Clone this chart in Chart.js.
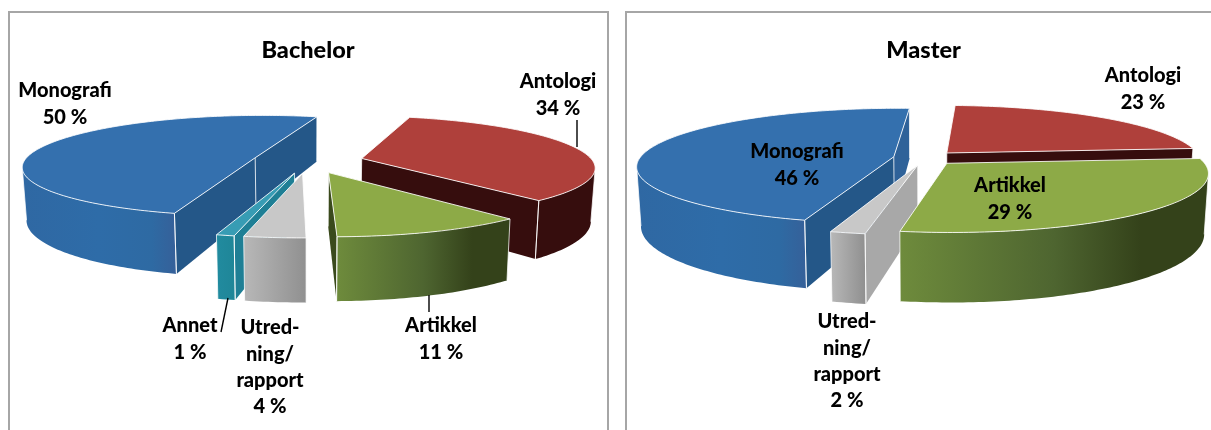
<!DOCTYPE html>
<html><head><meta charset="utf-8">
<style>
html,body{margin:0;padding:0;background:#fff;width:1211px;height:430px;overflow:hidden}
.panel{position:absolute;top:11px;height:520px;border:2px solid #a6a6a6;box-sizing:border-box}
canvas{position:absolute;top:0}
</style>
<script src="https://cdn.jsdelivr.net/npm/chart.js@4/dist/chart.umd.min.js"></script>
</head><body>
<div class="panel" style="left:8px;width:601px"></div>
<div class="panel" style="left:625px;width:700px"></div>
<canvas id="a" style="left:0" width="616" height="430"></canvas>
<canvas id="b" style="left:616px" width="615" height="430"></canvas>
<script>
// ---- data ----
const bachelorCategories = ['Monografi','Antologi','Artikkel','Utredning/rapport','Annet'];
const bachelorValues = [50.17,34.2,11.1,3.5,1.03];
const bachelorLabelLines = [['Monografi'],['Antologi'],['Artikkel'],['Utred-','ning/','rapport'],['Annet']];
const masterCategories = ['Monografi','Antologi','Artikkel','Utredning/rapport'];
const masterValues = [46.3,22.84,29,1.86];
const masterLabelLines = [['Monografi'],['Antologi'],['Artikkel'],['Utred-','ning/','rapport']];

// ---- styles ----
const STYLE = {
  Monografi:{top:'#3470AE',rs:'#245788',re:'#245788',outer:[[0,'#2F68A3'],[.5,'#2E6CA8'],[.85,'#2E6AA3'],[1,'#35619A']]},
  Antologi:{top:'#AF403B',rs:'#360D0D',re:'#360D0D',outer:[[0,'#360D0D'],[1,'#360D0D']]},
  Artikkel:{top:'#8DAA47',rs:'#3A4A1C',re:'#3A4A1C',outer:[[0,'#6E8B3C'],[.5,'#4E6530'],[.78,'#34421A'],[1,'#34421A']]},
  'Utredning/rapport':{top:'#C8C8C8',rs:'#A8A8A8',re:'#A8A8A8',outer:[[0,'#B8B8B8'],[1,'#909090']]},
  Annet:{top:'#379CB4',rs:'#1F7F95',re:'#1F7F95',outer:[[0,'#218B9F'],[1,'#1F8698']]}
};
const FONT = '900 20px Lato';
const bachelorGeom = {cx:308,cy:161,rx:231,ry:50,h:52,p:.157,explode:.24,rotation:195.4,
  labelX:[65,558,441,270,190], labelY:[91,82,326,328,326],
  leaders:[[577,120,577,147],[429,295,429,312],[228,298,221,332]]};
const masterGeom = {cx:309,cy:158,rx:254,ry:56.5,h:58,p:.157,explode:.125,rotation:196.3,
  labelX:[181,527,394,231], labelY:[152,76,186,322],
  leaders:[], reOverride:{Monografi:'#2F6299'}};

function pie3d(geom,cats,lines,vals){
  return {id:'pie3d',
    beforeDatasetsDraw(chart){
      const ctx=chart.ctx, g=geom, STEP=Math.PI/180;
      const proj=(u,v)=>{const w=1/(1-g.p*v);return {x:g.cx+g.rx*u*w,y:g.cy+g.ry*v*w,w};};
      const low=(q)=>({x:g.cx+(q.x-g.cx)*.985,y:q.y+g.h*q.w});
      const arcs=chart.getDatasetMeta(0).data.map((el,i)=>{
        const s=el.startAngle,e=el.endAngle,m=(s+e)/2;
        const ou=g.explode*Math.cos(m),ov=g.explode*Math.sin(m);
        return {i,s,e,ou,ov,key:Math.sin(m)+.5*Math.cos(m),style:STYLE[cats[i]],name:cats[i]};
      }).sort((a,b)=>a.key-b.key);
      const quad=(a,b,fill)=>{const la=low(a),lb=low(b);ctx.beginPath();ctx.moveTo(a.x,a.y);ctx.lineTo(b.x,b.y);ctx.lineTo(lb.x,lb.y);ctx.lineTo(la.x,la.y);ctx.closePath();ctx.fillStyle=fill;ctx.fill();};
      const vert=(a)=>{const l=low(a);ctx.beginPath();ctx.moveTo(a.x,a.y);ctx.lineTo(l.x,l.y);ctx.strokeStyle='rgba(255,255,255,.75)';ctx.lineWidth=1;ctx.stroke();};
      for(const A of arcs){
        const pts=[];const n=Math.max(2,Math.ceil((A.e-A.s)/STEP));
        for(let k=0;k<=n;k++){const t=A.s+(A.e-A.s)*k/n;pts.push(proj(A.ou+Math.cos(t),A.ov+Math.sin(t)));}
        const apex=proj(A.ou,A.ov),first=pts[0],last=pts[n];
        const st=A.style;
        // radial walls
        if(first.x<apex.x){quad(apex,first,st.rs);}
        if(last.x>apex.x){quad(apex,last,(g.reOverride&&g.reOverride[A.name])||st.re);}
        // curved wall: one polygon over the visible run of the rim
        const vis=[];for(let k=0;k<=n;k++){
          if((k<n&&pts[k+1].x<pts[k].x)||(k>0&&pts[k].x<pts[k-1].x)) vis.push(pts[k]);
        }
        if(vis.length>1){
          const xs=vis.map(q=>q.x);
          const gr=ctx.createLinearGradient(Math.min(...xs),0,Math.max(...xs),0);
          st.outer.forEach(c=>gr.addColorStop(c[0],c[1]));
          ctx.beginPath();
          vis.forEach((q,k)=>k?ctx.lineTo(q.x,q.y):ctx.moveTo(q.x,q.y));
          vis.slice().reverse().forEach(q=>{const l=low(q);ctx.lineTo(l.x,l.y);});
          ctx.closePath();ctx.fillStyle=gr;ctx.fill();
          vert(vis[0]);vert(vis[vis.length-1]);
        }
        if(first.x<apex.x||last.x>apex.x) vert(apex);
        if(first.x<apex.x) vert(first);
        if(last.x>apex.x) vert(last);
        // top face
        ctx.beginPath();ctx.moveTo(apex.x,apex.y);pts.forEach(q=>ctx.lineTo(q.x,q.y));ctx.closePath();
        ctx.fillStyle=st.top;ctx.fill();
        ctx.strokeStyle='rgba(255,255,255,.85)';ctx.lineWidth=1;ctx.lineJoin='round';ctx.stroke();
      }
      // leaders
      ctx.strokeStyle='#000';ctx.lineWidth=1.4;
      g.leaders.forEach(l=>{ctx.beginPath();ctx.moveTo(l[0],l[1]);ctx.lineTo(l[2],l[3]);ctx.stroke();});
      // labels
      ctx.fillStyle='#000';ctx.font=FONT;ctx.textAlign='center';ctx.textBaseline='middle';
      lines.forEach((ls,i)=>{
        const all=ls.concat([Math.round(vals[i])+' %']);
        all.forEach((t,j)=>ctx.fillText(t,g.labelX[i],g.labelY[i]+j*26.2));
      });
      return false;
    }};
}
function make(id,title,cats,vals,lines,geom){
  new Chart(document.getElementById(id),{
    type:'pie',
    data:{labels:cats,datasets:[{data:vals,backgroundColor:cats.map(c=>STYLE[c].top),borderWidth:0}]},
    options:{responsive:false,animation:false,rotation:geom.rotation,
      layout:{padding:0},
      plugins:{legend:{display:false},tooltip:{enabled:false},
        title:{display:true,text:title,color:'#000',font:{family:'Lato',size:23.5,weight:'900'},padding:{top:36,bottom:10}}}},
    plugins:[pie3d(geom,cats,lines,vals)]
  });
}
make('a','Bachelor',bachelorCategories,bachelorValues,bachelorLabelLines,bachelorGeom);
make('b','Master',masterCategories,masterValues,masterLabelLines,masterGeom);
</script>
</body></html>
